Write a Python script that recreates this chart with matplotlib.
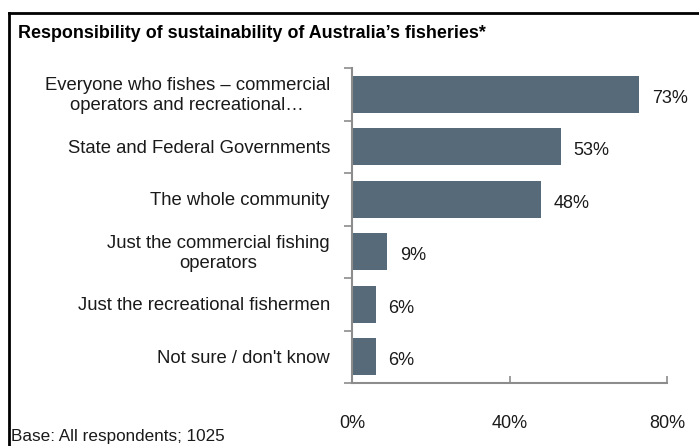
import matplotlib
matplotlib.use("Agg")
import matplotlib.pyplot as plt
from matplotlib.lines import Line2D

plt.rcParams['font.family'] = ['Liberation Sans', 'DejaVu Sans']

categories = [
    "Everyone who fishes \u2013 commercial\noperators and recreational\u2026",
    "State and Federal Governments",
    "The whole community",
    "Just the commercial fishing\noperators",
    "Just the recreational fishermen",
    "Not sure / don't know",
]
values = [73, 53, 48, 9, 6, 6]
xticks = [0, 40, 80]
xtick_labels = ["0%", "40%", "80%"]

W, H = 699, 446
fig = plt.figure(figsize=(W / 100, H / 100), dpi=100)

# axes placement in pixels: x 352..667, y 68..383
left, right, top, bottom = 352, 667, 68, 383
ax = fig.add_axes([left / W, 1 - bottom / H, (right - left) / W, (bottom - top) / H])

bar_color = '#566a79'
axis_color = '#8c8c8c'
text_color = '#1a1a1a'
n = len(categories)
ypos = list(range(n))
ax.barh(ypos, values, height=0.7, color=bar_color, zorder=2)
ax.set_ylim(n - 0.5, -0.5)
ax.set_xlim(0, 80)

for y, v in zip(ypos, values):
    ax.text(v + 3.2, y + 0.08, f"{v}%", va='center', ha='left', fontsize=13, color=text_color)

for s in ['top', 'right']:
    ax.spines[s].set_visible(False)
for s in ['left', 'bottom']:
    ax.spines[s].set_color(axis_color)
    ax.spines[s].set_linewidth(1.5)

ax.set_xticks(xticks)
ax.set_xticklabels(xtick_labels, fontsize=13, color=text_color)
ax.tick_params(axis='x', direction='in', length=5, color=axis_color, width=1.2, pad=23)

# category ticks sit on boundaries between bars
ax.set_yticks([i - 0.5 for i in range(n + 1)])
ax.set_yticklabels([])
ax.tick_params(axis='y', direction='out', length=6, color=axis_color, width=1.2)
for y, lab in zip(ypos, categories):
    ax.text(-5.6, y + 0.03, lab, ha='right', va='center', fontsize=13.3,
            color=text_color, linespacing=1.24, multialignment='center',
            clip_on=False)

# frame lines around the panel
fig.add_artist(Line2D([9 / W, 9 / W], [0, 1 - 13 / H], transform=fig.transFigure,
                      color='black', lw=2))
fig.add_artist(Line2D([9 / W, 1], [1 - 13 / H, 1 - 13 / H], transform=fig.transFigure,
                      color='black', lw=2))

fig.text(18 / W, 1 - 34 / H, "Responsibility of sustainability of Australia\u2019s fisheries*",
         fontsize=12.9, fontweight='bold', va='center', ha='left')
fig.text(11 / W, 1 - 437 / H, "Base: All respondents; 1025", fontsize=12.3,
         va='center', ha='left', color=text_color)

fig.savefig("out.png", dpi=100)
